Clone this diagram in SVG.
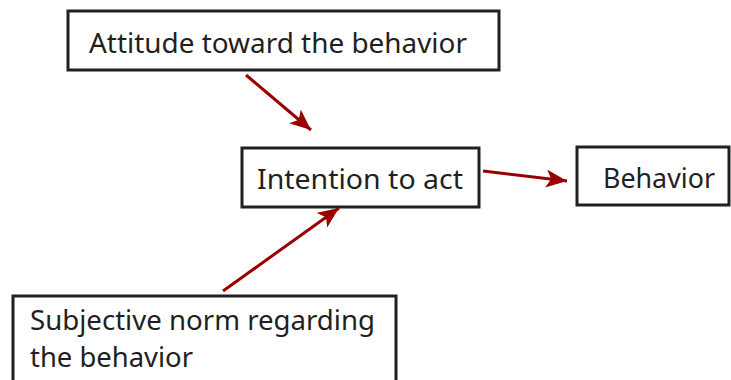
<svg xmlns="http://www.w3.org/2000/svg" width="731" height="380" viewBox="0 0 731 380">
<style>
.box{fill:#fff;stroke:#231f20;stroke-width:3}
.t{font-family:"Noto Sans","Open Sans",sans-serif;font-size:28px;fill:#231f20}
.c{stroke:#9a0000;stroke-width:3;fill:none}
</style>
<defs>
<marker id="ah" markerUnits="userSpaceOnUse" markerWidth="24" markerHeight="20" refX="21" refY="9" orient="auto">
<path d="M0,0 L21,9 L0,18 L5,9 Z" fill="#9a0000"/>
</marker>
</defs>
<rect width="731" height="380" fill="#fff"/>
<g id="attitude"><rect class="box" x="68" y="11" width="431" height="59"/><text class="t" x="89" y="53" textLength="378" lengthAdjust="spacingAndGlyphs">Attitude toward the behavior</text></g>
<g id="intention"><rect class="box" x="242" y="148" width="237" height="59"/><text class="t" x="257" y="189" textLength="206" lengthAdjust="spacingAndGlyphs">Intention to act</text></g>
<g id="behavior"><rect class="box" x="577" y="147" width="152" height="58"/><text class="t" x="603" y="188" textLength="112" lengthAdjust="spacingAndGlyphs">Behavior</text></g>
<g id="subjective"><rect class="box" x="13" y="296" width="383" height="90"/><text class="t" x="30" y="330" textLength="345" lengthAdjust="spacingAndGlyphs">Subjective norm regarding</text><text class="t" x="30" y="367" textLength="163" lengthAdjust="spacingAndGlyphs">the behavior</text></g>
<g id="connectors">
<line class="c" x1="246" y1="75" x2="311" y2="130" marker-end="url(#ah)"/>
<line class="c" x1="483" y1="171" x2="567" y2="181" marker-end="url(#ah)"/>
<line class="c" x1="223" y1="291" x2="339" y2="208" marker-end="url(#ah)"/>
</g>
</svg>
